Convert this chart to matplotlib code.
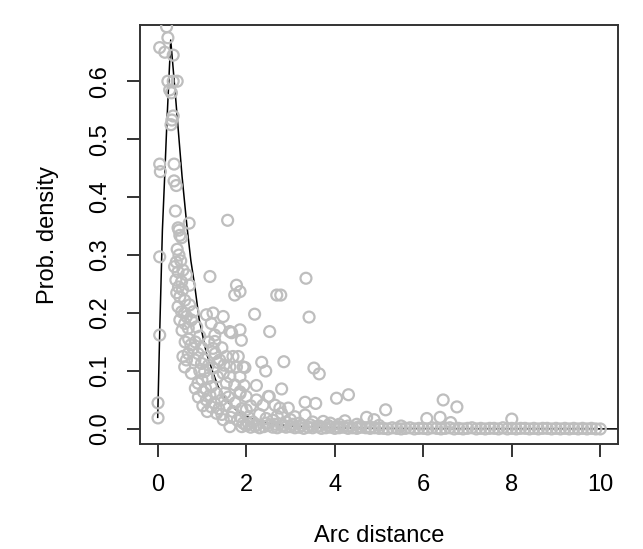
import matplotlib
matplotlib.use("Agg")
import matplotlib.pyplot as plt

plt.rcParams['font.family'] = ['Liberation Sans', 'DejaVu Sans']

# Fitted density curve
curve_x = [0.0, 0.045, 0.106, 0.16, 0.21, 0.25, 0.294, 0.34, 0.39, 0.446, 0.55, 0.66,
           0.75, 0.84, 0.935, 1.1, 1.25, 1.365, 1.6, 1.855, 2.2, 2.6, 3.0, 4.0, 5.0,
           6.0, 8.0, 10.0, 10.5]
curve_y = [0.02, 0.166, 0.343, 0.44, 0.533, 0.599, 0.671, 0.63, 0.585, 0.533, 0.436, 0.35,
           0.29, 0.245, 0.19, 0.131, 0.097, 0.073, 0.045, 0.027, 0.015, 0.008, 0.005, 0.002,
           0.001, 0.0005, 0.0002, 0.0001, 0.0001]

# Scattered empirical points
scatter_x = [0.20, 0.23, 0.045, 0.16, 0.35, 0.23, 0.35, 0.44, 0.27, 0.31, 0.35, 0.32, 0.30,
             0.045, 0.06, 0.37, 0.37, 0.42, 0.40, 0.46, 0.71, 0.48, 0.50, 0.54, 1.58, 0.045,
             0.42, 0.38, 0.46, 0.57, 0.41, 0.54, 1.18, 0.65, 0.72, 1.78, 1.74, 1.86,
             0.50, 0.61, 0.46, 0.72, 0.54, 0.80, 0.65, 0.50, 0.76, 0.61, 0.88, 0.69,
             1.10, 1.25, 1.48, 1.40, 1.21, 1.29, 1.63, 1.86, 1.89, 1.29, 1.25, 0.045,
             0.80, 0.69, 0.91, 0.61, 0.84, 0.99, 0.76, 1.06, 1.14, 0.91, 1.21, 1.03, 1.33,
             1.10, 1.44, 1.21, 1.55, 1.33, 1.70, 1.48, 1.86, 1.63, 1.93, 1.40, 1.55, 1.70,
             1.82, 1.63, 1.78, 1.48, 1.63, 1.86, 1.55, 1.74, 1.93, 1.86, 2.0, 0.57, 0.65,
             0.007, 0.007,
             3.35, 2.69, 2.78, 3.42, 2.19, 2.53, 1.67, 2.35, 2.85, 2.44, 3.53, 3.65, 1.97,
             2.23, 2.80, 2.52, 2.65, 2.76, 2.95, 3.33, 3.57, 4.04, 4.31, 5.15, 4.72, 4.89,
             4.23, 3.33, 3.74, 2.23, 2.38, 1.86, 2.0, 2.80, 3.10, 2.50,
             6.45, 6.76, 6.08, 6.38, 6.62, 8.0,
             0.44, 0.48, 0.52, 0.47, 0.56, 0.43, 0.60, 0.55, 0.70, 0.75, 0.62, 0.85, 0.95,
             1.0, 1.05, 0.95, 1.15, 1.25, 1.35, 1.0, 1.08, 1.18, 1.28, 1.38, 1.45, 1.52,
             1.6, 1.65, 1.75, 1.8, 1.9, 1.95, 2.05, 2.1, 2.15, 2.3, 2.45, 2.6, 2.7, 2.9,
             3.0, 3.2, 3.5, 3.9, 4.1, 4.5, 5.0, 5.5, 1.12, 1.02, 0.92, 0.85, 1.3, 1.45,
             1.15, 1.35, 1.5]
scatter_y = [0.694, 0.675, 0.658, 0.65, 0.645, 0.60, 0.60, 0.60, 0.585, 0.58, 0.54, 0.533, 0.525,
             0.457, 0.444, 0.457, 0.428, 0.42, 0.376, 0.347, 0.355, 0.343, 0.334, 0.33, 0.36, 0.297,
             0.288, 0.28, 0.271, 0.274, 0.257, 0.254, 0.263, 0.266, 0.248, 0.248, 0.231, 0.237,
             0.228, 0.222, 0.211, 0.214, 0.202, 0.202, 0.194, 0.188, 0.188, 0.182, 0.176, 0.174,
             0.197, 0.20, 0.194, 0.174, 0.182, 0.162, 0.168, 0.171, 0.153, 0.151, 0.139, 0.162,
             0.139, 0.130, 0.130, 0.107, 0.119, 0.113, 0.096, 0.099, 0.087, 0.079, 0.073, 0.064, 0.061,
             0.050, 0.050, 0.038, 0.041, 0.027, 0.030, 0.016, 0.021, 0.004, 0.010, 0.119, 0.125, 0.125,
             0.125, 0.107, 0.107, 0.096, 0.090, 0.090, 0.079, 0.076, 0.107, 0.061, 0.056, 0.125, 0.119,
             0.045, 0.019,
             0.26, 0.231, 0.231, 0.193, 0.198, 0.168, 0.166, 0.115, 0.116, 0.10, 0.105, 0.095, 0.106,
             0.075, 0.069, 0.056, 0.041, 0.036, 0.036, 0.046, 0.044, 0.053, 0.059, 0.033, 0.020, 0.016,
             0.014, 0.024, 0.013, 0.05, 0.041, 0.064, 0.033, 0.027, 0.021, 0.056,
             0.05, 0.038, 0.018, 0.020, 0.011, 0.017,
             0.31, 0.30, 0.29, 0.245, 0.24, 0.235, 0.20, 0.17, 0.155, 0.145, 0.150, 0.15, 0.16,
             0.14, 0.12, 0.10, 0.11, 0.105, 0.09, 0.085, 0.07, 0.058, 0.045, 0.035, 0.025, 0.062,
             0.055, 0.02, 0.045, 0.015, 0.035, 0.075, 0.02, 0.04, 0.012, 0.025, 0.018, 0.015, 0.022, 0.012,
             0.016, 0.01, 0.012, 0.01, 0.008, 0.008, 0.006, 0.005, 0.03, 0.04, 0.055, 0.07, 0.13, 0.14,
             0.15, 0.115, 0.11]

# Dense band of points near zero
band_x = [1.9, 2.0, 2.1, 2.2, 2.3, 2.4, 2.5, 2.6, 2.7, 2.8, 2.9, 3.0, 3.1, 3.2, 3.3, 3.4,
          3.5, 3.6, 3.7, 3.8, 3.9, 4.0, 4.1, 4.2, 4.3, 4.4, 4.5, 4.6, 4.7, 4.8, 4.9, 5.0,
          5.1, 5.2, 5.3, 5.4, 5.5, 5.6, 5.7, 5.8, 5.9, 6.0, 6.1, 6.2, 6.3, 6.4, 6.5, 6.6,
          6.7, 6.8, 6.9, 7.0, 7.1, 7.2, 7.3, 7.4, 7.5, 7.6, 7.7, 7.8, 7.9, 8.0, 8.1, 8.2,
          8.3, 8.4, 8.5, 8.6, 8.7, 8.8, 8.9, 9.0, 9.1, 9.2, 9.3, 9.4, 9.5, 9.6, 9.7, 9.8,
          9.9, 10.0,
          2.05, 2.25, 2.45, 2.65, 2.85, 3.05, 3.25, 3.45, 3.65, 3.85, 4.05, 4.3, 4.55, 4.8]
band_y = [0.004, 0.006, 0.003, 0.005, 0.002, 0.004, 0.006, 0.003, 0.002, 0.005, 0.003, 0.004,
          0.002, 0.003, 0.001, 0.003, 0.002, 0.004, 0.001, 0.002, 0.003, 0.001, 0.002, 0.003,
          0.001, 0.002, 0.001, 0.003, 0.002, 0.001, 0.002, 0.001,
          0.001, 0.000, 0.002, 0.001, 0.000, 0.001, 0.002, 0.000, 0.001, 0.001, 0.000, 0.002,
          0.001, 0.000, 0.001, 0.002, 0.000, 0.001, 0.000, 0.001, 0.002, 0.000, 0.001, 0.000,
          0.001, 0.001, 0.000, 0.002, 0.000, 0.001, 0.000, 0.001, 0.001, 0.000, 0.001, 0.000,
          0.001, 0.001, 0.000, 0.001, 0.000, 0.001, 0.000, 0.001, 0.000, 0.001, 0.000, 0.001,
          0.000, 0.000,
          0.009, 0.007, 0.010, 0.008, 0.006, 0.008, 0.006, 0.007, 0.005, 0.006, 0.004, 0.005,
          0.004, 0.003]

x_ticks = [0, 2, 4, 6, 8, 10]
y_ticks = [0.0, 0.1, 0.2, 0.3, 0.4, 0.5, 0.6]
y_tick_labels = ["0.0", "0.1", "0.2", "0.3", "0.4", "0.5", "0.6"]

fig = plt.figure(figsize=(6.43, 5.49), dpi=100)
ax = fig.add_axes([140/643, 105/549, 478/643, 419/549])

ax.plot(curve_x, curve_y, color='black', lw=1.1, zorder=2)
ax.scatter(band_x, band_y, s=62, facecolors='none', edgecolors='#bebebe',
           linewidths=1.6, zorder=3, clip_on=True)
ax.scatter(scatter_x, scatter_y, s=62, facecolors='none', edgecolors='#bebebe',
           linewidths=1.6, zorder=3, clip_on=True)

ax.set_xlim(-0.4, 10.4)
ax.set_ylim(-0.026, 0.697)
ax.set_xticks(x_ticks)
ax.set_xticklabels([str(t) for t in x_ticks])
ax.set_yticks(y_ticks)
ax.set_yticklabels(y_tick_labels, rotation=90, va='center')

for s in ax.spines.values():
    s.set_linewidth(1.4)
    s.set_color('#333333')
ax.tick_params(axis='both', direction='out', length=9.5, width=1.4, color='#333333',
               labelsize=17, pad=12)
ax.tick_params(axis='y', pad=11)

ax.set_xlabel("Arc distance", fontsize=17, labelpad=21)
ax.set_ylabel("Prob. density", fontsize=17, labelpad=22)

fig.savefig("out.png", dpi=100)
